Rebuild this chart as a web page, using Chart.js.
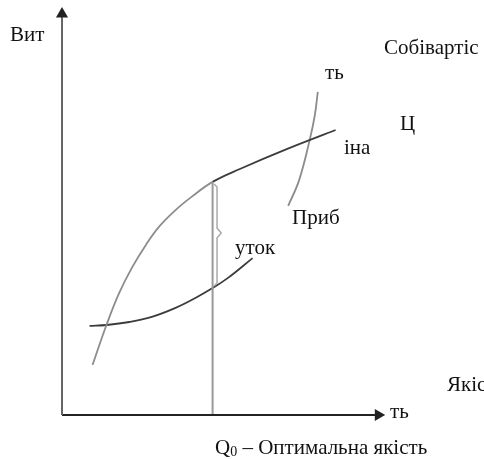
<!DOCTYPE html>
<html>
<head>
<meta charset="utf-8">
<script src="https://cdn.jsdelivr.net/npm/chart.js@4/dist/chart.umd.min.js"></script>
<style>
  body { margin: 0; background: #fff; }
  canvas { display: block; }
</style>
</head>
<body>
<canvas id="canvas" width="484" height="459"></canvas>
<script>
"use strict";

// Крива ціни (x = якість, y = витрати)
const priceX = [1.03, 1.5, 1.93, 2.37, 2.83, 3.27, 3.83, 4.37, 5.08, 6.0, 7.6, 9.23];
const priceY = [1.67, 3.0, 4.07, 4.93, 5.67, 6.27, 6.83, 7.27, 7.77, 8.2, 8.87, 9.5];

// Крива собівартості (null = розрив під підписом)
const costX = [0.93, 1.5, 2.27, 3.03, 3.83, 4.5, 5.08, 5.6, 6.43, 7.0, 7.63, 8.0, 8.37, 8.53, 8.63];
const costY = [2.97, 3.0, 3.1, 3.27, 3.57, 3.9, 4.23, 4.57, 5.23, null, 6.97, 7.83, 9.23, 10.0, 10.77];

// Оптимальна якість Q0
const q0 = 5.08;
const q0Top = 7.77;

// Дужка "прибуток"
const braceX = [5.13, 5.23, 5.23, 5.37, 5.23, 5.23, 5.13];
const braceY = [7.7, 7.6, 6.23, 6.07, 5.9, 4.4, 4.3];

// Осі
const axisYTop = 13.37;
const axisXEnd = 10.67;

const labels = ["Вит", "Собівартіс", "ть", "Ц", "іна", "Приб", "уток", "Якіс", "ть"];
const labelPos = [[10, 35], [384, 48], [325, 73], [400, 124], [344, 148], [292, 218], [235, 248], [447, 385], [390, 412]];

function pts(xs, ys) {
  return xs.map((x, i) => ({ x: x, y: ys[i] }));
}

const FONT = "21px 'Liberation Serif'";

const textPlugin = {
  id: "texts",
  afterDraw(chart) {
    const ctx = chart.ctx;
    ctx.save();
    ctx.fillStyle = "#111";
    ctx.textBaseline = "middle";
    ctx.font = FONT;
    labels.forEach((t, i) => ctx.fillText(t, labelPos[i][0], labelPos[i][1]));
    // Q0 – Оптимальна якість
    let x = 215, y = 448;
    ctx.fillText("Q", x, y);
    x += ctx.measureText("Q").width;
    ctx.font = "14px 'Liberation Serif'";
    ctx.fillText("0", x, y + 4);
    x += ctx.measureText("0").width;
    ctx.font = FONT;
    ctx.fillText(" – Оптимальна якість", x, y);
    ctx.restore();
  }
};

const light = "#8c8c8c";
const dark = "#3c3c3c";

new Chart(document.getElementById("canvas"), {
  type: "scatter",
  data: {
    datasets: [
      {
        data: pts([0, 0], [0, axisYTop]),
        showLine: true, borderColor: "#666", borderWidth: 2,
        pointRadius: [0, 5], pointStyle: "triangle", pointBackgroundColor: "#222", pointBorderColor: "#222"
      },
      {
        data: pts([0, axisXEnd], [0, 0]),
        showLine: true, borderColor: "#222", borderWidth: 2,
        pointRadius: [0, 5], pointStyle: "triangle", rotation: 90, pointBackgroundColor: "#222", pointBorderColor: "#222"
      },
      {
        data: pts([q0, q0], [0, q0Top]),
        showLine: true, borderColor: "#999", borderWidth: 2, pointRadius: 0
      },
      {
        data: pts(braceX, braceY),
        showLine: true, borderColor: "#aaa", borderWidth: 1.5, pointRadius: 0
      },
      {
        data: pts(priceX, priceY),
        showLine: true, borderWidth: 1.8, pointRadius: 0, tension: 0.4,
        segment: { borderColor: c => c.p0.parsed.x < 5 ? light : dark }
      },
      {
        data: pts(costX, costY),
        showLine: true, borderWidth: 1.8, pointRadius: 0, spanGaps: false, tension: 0.4,
        segment: { borderColor: c => c.p0.parsed.x < 7 ? dark : light }
      }
    ]
  },
  options: {
    responsive: false,
    animation: false,
    clip: false,
    layout: { padding: { left: 62, right: 2, top: 7, bottom: 44 } },
    scales: {
      x: { type: "linear", min: 0, max: 14, display: false },
      y: { type: "linear", min: 0, max: 13.6, display: false }
    },
    plugins: { legend: { display: false }, tooltip: { enabled: false } }
  },
  plugins: [textPlugin]
});
</script>
</body>
</html>
